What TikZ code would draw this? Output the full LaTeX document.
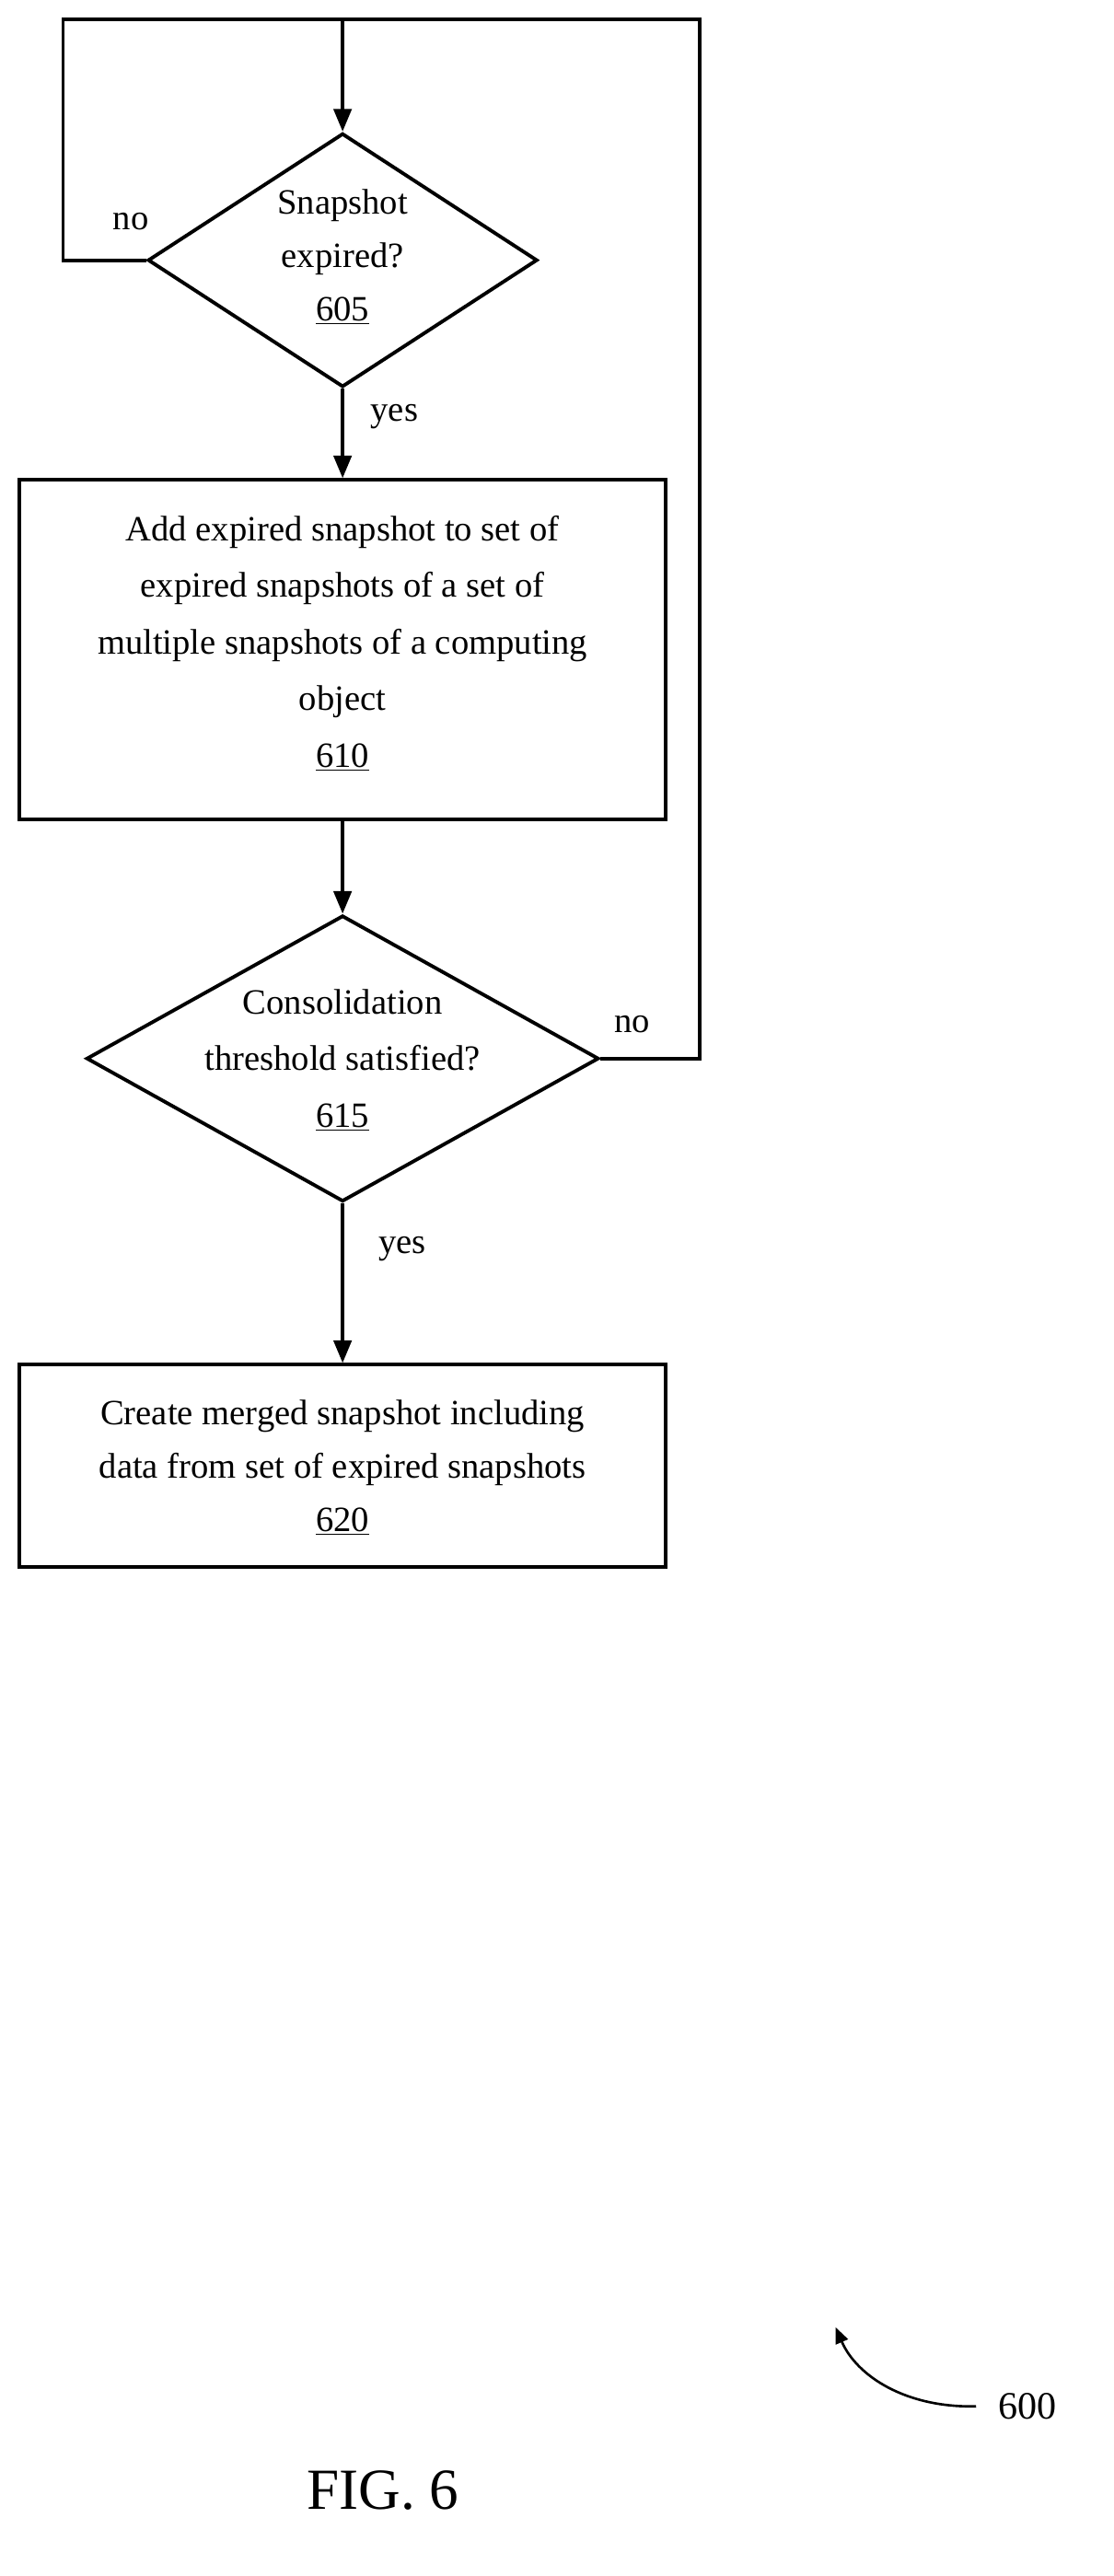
\documentclass[tikz,border=0pt]{standalone}
\usepackage{fontspec}
\setmainfont{Liberation Serif}
\usetikzlibrary{shapes.geometric,arrows.meta}
\begin{document}
\begin{tikzpicture}[x=1pt,y=-1pt,
  ln/.style={line width=2.2pt},
  ar/.style={ln,-{Triangle[length=14pt,width=11pt]}},
  box/.style={draw,line width=2.2pt,minimum width=400pt,inner sep=0pt},
  dia/.style={draw,diamond,line width=2.2pt,inner sep=0pt},
  txt/.style={align=center,font=\fontsize{22}{35}\selectfont},
  lbl/.style={font=\fontsize{22}{26}\selectfont}]
\useasboundingbox (0,0) rectangle (689,1594);
\node[dia,minimum width=241pt,minimum height=157pt] (d1) at (212,161) {};
\node[txt,font=\fontsize{22}{33}\selectfont] (t1) at (212,159) {Snapshot\\expired?\\\underline{605}};
\node[box,minimum height=210pt] (b1) at (212,402) {};
\node[txt] (t2) at (212,398) {Add expired snapshot to set of\\expired snapshots of a set of\\multiple snapshots of a computing\\object\\\underline{610}};
\node[dia,minimum width=317pt,minimum height=177pt] (d2) at (212,655) {};
\node[txt] (t3) at (212,656) {Consolidation\\threshold satisfied?\\\underline{615}};
\node[box,minimum height=125pt] (b2) at (212,907) {};
\node[txt,font=\fontsize{22}{33}\selectfont] (t4) at (212,908) {Create merged snapshot including\\data from set of expired snapshots\\\underline{620}};
\coordinate (c1) at (39,161);
\coordinate (c2) at (39,12);
\coordinate (c3) at (433,12);
\coordinate (c4) at (433,655);
\coordinate (c5) at (212,12);
\draw[ln] (d1.west) -- (c1) -- (c2) -- (c3) -- (c4) -- (d2.east);
\draw[ar] (c5) -- (d1.north);
\draw[ar] (d1.south) -- (b1.north);
\draw[ar] (b1.south) -- (d2.north);
\draw[ar] (d2.south) -- (b2.north);
\node[lbl] (n1) at (81,137) {no};
\node[lbl] (y1) at (244,258) {yes};
\node[lbl] (n2) at (391,634) {no};
\node[lbl] (y2) at (249,773) {yes};
\node[font=\fontsize{24}{28}\selectfont] (r) at (636,1489) {600};
\coordinate (a0) at (604,1489);
\coordinate (a1) at (517,1440);
\draw[line width=1.5pt,-{Triangle[length=10pt,width=8pt]}] (a0) .. controls (560,1490) and (530,1470) .. (a1);
\node[font=\fontsize{36}{40}\selectfont] (fig) at (237,1541) {FIG. 6};
\end{tikzpicture}
\end{document}
